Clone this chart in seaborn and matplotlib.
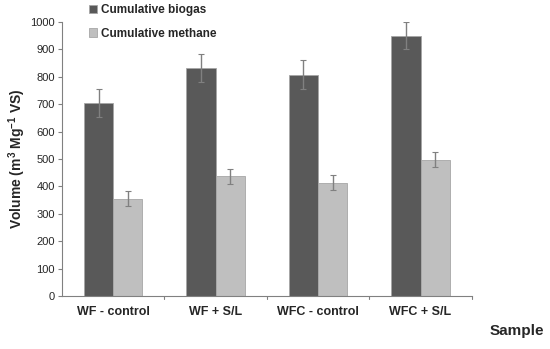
import numpy as np
import pandas as pd
import matplotlib
matplotlib.use("Agg")
import matplotlib.pyplot as plt
import seaborn as sns

# =========================
# Data
# =========================
samples = ["WF - control", "WF + S/L", "WFC - control", "WFC + S/L"]
biogas = [705, 832, 808, 950]
biogas_err = [50, 52, 52, 50]
methane = [355, 437, 413, 497]
methane_err = [28, 28, 28, 28]
series = ["Cumulative biogas", "Cumulative methane"]

df = pd.DataFrame({
    "Sample": samples * 2,
    "Series": [series[0]] * 4 + [series[1]] * 4,
    "Volume": biogas + methane,
    "Err": biogas_err + methane_err,
})

# =========================
# Plot
# =========================
sns.set_style("white")
plt.rcParams["font.family"] = ["Liberation Sans", "DejaVu Sans"]
plt.rcParams["mathtext.fontset"] = "custom"
plt.rcParams["mathtext.rm"] = "Liberation Sans:bold"
plt.rcParams["mathtext.bf"] = "Liberation Sans:bold"

fig = plt.figure(figsize=(5.5, 3.49), dpi=100)
ax = fig.add_axes([0.1127, 0.152, 0.745, 0.785])

palette = {series[0]: "#595959", series[1]: "#bfbfbf"}
sns.barplot(data=df, x="Sample", y="Volume", hue="Series", palette=palette,
            width=0.57, gap=0, errorbar=None, saturation=1,
            edgecolor="#a6a6a6", linewidth=0.6, ax=ax)

# error bars on top of the bars
for cont, s in zip(ax.containers, series):
    errs = df.loc[df["Series"] == s, "Err"].values
    xs = [p.get_x() + p.get_width() / 2 for p in cont.patches]
    ys = [p.get_height() for p in cont.patches]
    ax.errorbar(xs, ys, yerr=errs, fmt="none", ecolor="#808080",
                elinewidth=1, capsize=2, capthick=0.8)

ax.set_ylim(0, 1000)
ax.set_xlim(-0.5, 3.5)
ax.set_yticks(np.arange(0, 1001, 100))
ax.tick_params(axis="y", labelsize=8, length=3, direction="out", left=True,
               color="#808080", pad=2)
ax.set_xticks(range(4))
ax.set_xticklabels(samples, fontsize=9, fontweight="bold")
ax.tick_params(axis="x", length=0, pad=7)
# group separator ticks
for xb in [0.5, 1.5, 2.5, 3.5]:
    ax.plot([xb, xb], [0, -12], color="#808080", lw=0.8, clip_on=False)

for sp in ["top", "right"]:
    ax.spines[sp].set_visible(False)
for sp in ["left", "bottom"]:
    ax.spines[sp].set_color("#808080")
    ax.spines[sp].set_linewidth(0.8)

ax.set_xlabel("")
ax.set_ylabel(r"Volume (m$^{3}$ Mg$^{-1}$ VS)", fontsize=10, fontweight="bold",
              labelpad=2)
fig.text(0.99, 0.053, "Sample", ha="right", va="center", fontsize=11, fontweight="bold")

leg = ax.legend(loc="upper left", bbox_to_anchor=(0.04, 1.105), frameon=False,
                handlelength=0.7, handleheight=0.7, handletextpad=0.3,
                labelspacing=1.0, prop={"weight": "bold", "size": 8.5})

plt.savefig("out.png", dpi=100)
